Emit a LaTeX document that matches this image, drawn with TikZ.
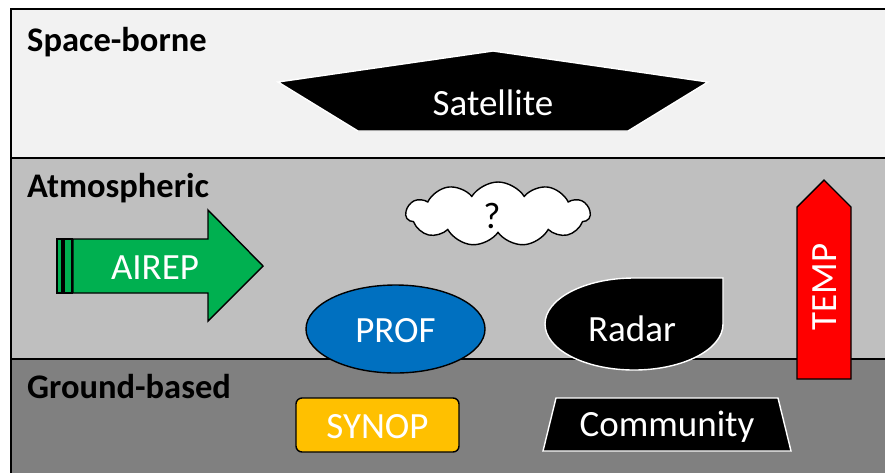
\documentclass[tikz,border=0pt]{standalone}
\usepackage{fontspec}
\setmainfont{Carlito}
\usetikzlibrary{shapes.symbols}
\definecolor{spacebg}{HTML}{F2F2F2}
\definecolor{atmosbg}{HTML}{BFBFBF}
\definecolor{groundbg}{HTML}{808080}
\definecolor{airgreen}{HTML}{00B050}
\definecolor{profblue}{HTML}{0070C0}
\definecolor{synopgold}{HTML}{FFC000}
\begin{document}
\begin{tikzpicture}[x=1pt,y=-1pt,
  layer/.style={draw=black,line width=1.6pt},
  layertitle/.style={anchor=base west,inner sep=0pt,font=\fontsize{34.5}{38}\selectfont\bfseries},
  lbl/.style={inner sep=0pt,text=white,font=\fontsize{37}{40}\selectfont},
  darkshape/.style={fill=black,draw=white,line width=1.4pt},
  blackedge/.style={draw=black,line width=1.4pt}]
\clip (0,0) rectangle (885,472);
\fill[white] (0,0) rectangle (885,472);

% three observation layers
\path[layer,fill=spacebg]  (11,9)   rectangle (900,158);
\path[layer,fill=atmosbg]  (11,158) rectangle (900,359);
\path[layer,fill=groundbg] (11,359) rectangle (900,490);

\node[layertitle] (space)  at (27,51)  {Space-borne};
\node[layertitle] (atmos)  at (27,197) {Atmospheric};
\node[layertitle] (ground) at (27,398) {Ground-based};

% satellite
\path[darkshape] (278,82) -- (493,51) -- (708,82) -- (628,131) -- (358,131) -- cycle;
\node[lbl] (sat) at (493,103) {Satellite};

% unknown source
\node[cloud,cloud puffs=11,cloud puff arc=115,aspect=3,draw=black,fill=white,
      line width=1.4pt,minimum width=184pt,minimum height=64pt,inner sep=0pt]
      (cloud) at (498,214) {};
\node[inner sep=0pt,font=\fontsize{37}{40}\selectfont] (q) at (492,216) {?};

% aircraft reports
\path[blackedge,fill=airgreen] (57,239) rectangle (62,293);
\path[blackedge,fill=airgreen] (64,239) rectangle (72,293);
\path[blackedge,fill=airgreen] (73,239) -- (208,239) -- (208,210) -- (263,266)
   -- (208,321) -- (208,293) -- (73,293) -- cycle;
\node[lbl] (airep) at (155,268) {AIREP};

% radiosonde
\path[blackedge,fill=red] (797,379) -- (797,207) -- (824,180) -- (851,207) -- (851,379) -- cycle;
\node[lbl,rotate=90] (temp) at (825,287) {TEMP};

% profiler
\path[blackedge,fill=profblue] (395.5,329) ellipse [x radius=89.5,y radius=44];
\node[lbl] (prof) at (395.5,331) {PROF};

% radar
\path[darkshape] (634,278) -- (723,278) -- (723,324)
   arc[start angle=0,end angle=270,x radius=89,y radius=46] -- cycle;
\node[lbl] (radar) at (632,329) {Radar};

% surface stations
\path[blackedge,fill=synopgold,rounded corners=6pt] (296,398) rectangle (459,452);
\node[lbl] (synop) at (377.5,427) {SYNOP};

\path[darkshape] (543,451) -- (556,398) -- (778,398) -- (791,451) -- cycle;
\node[lbl] (comm) at (667,427) {Community};
\end{tikzpicture}
\end{document}
